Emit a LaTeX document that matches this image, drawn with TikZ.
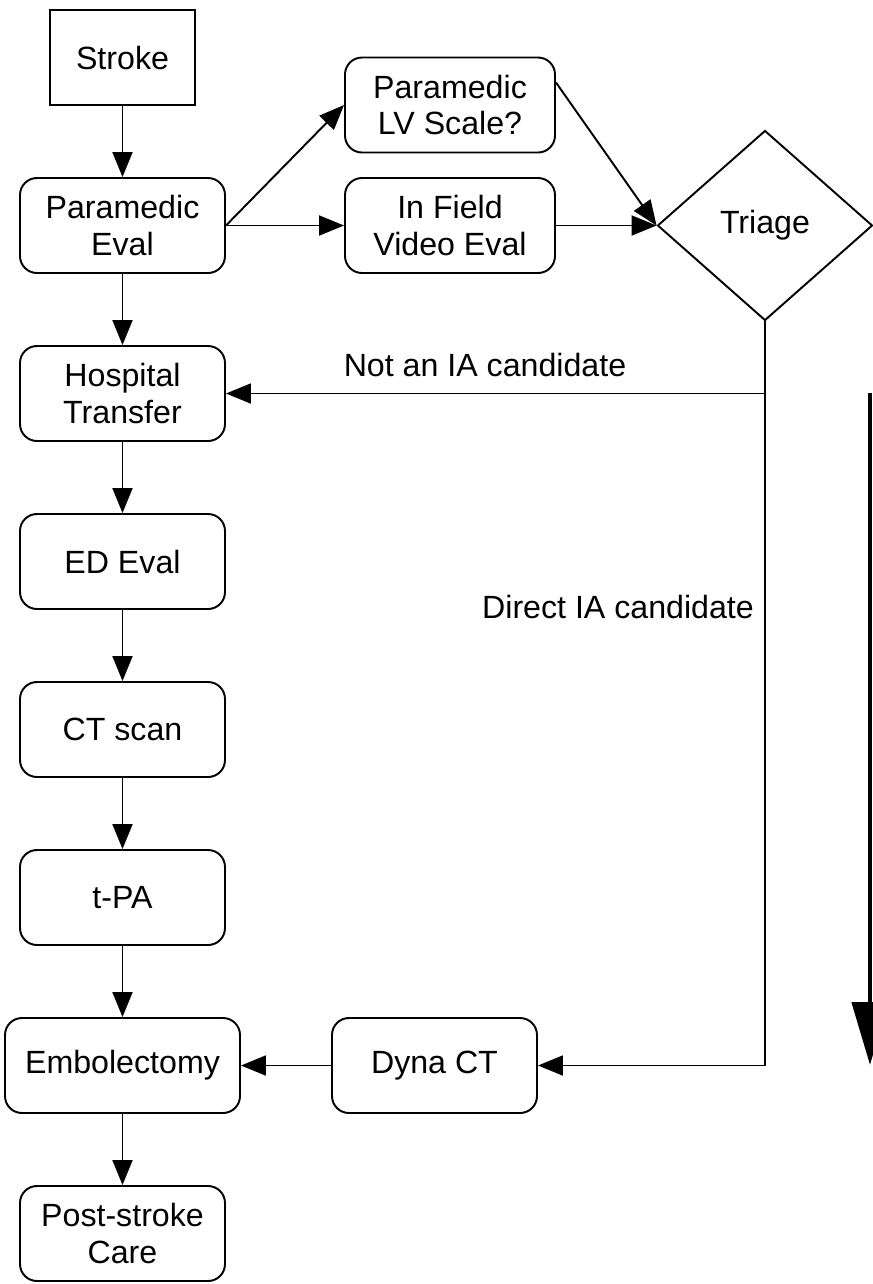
\documentclass[tikz,border=0pt]{standalone}
\usepackage{fontspec}
\setmainfont{Liberation Sans}
\usetikzlibrary{shapes.geometric,arrows.meta}

\begin{document}
\begin{tikzpicture}[x=0.2mm,y=-0.2mm,line width=1.1pt,
  font=\fontsize{18.3}{21}\selectfont,
  box/.style={draw,rounded corners=3.4mm,align=center,
    minimum width=41mm,minimum height=19mm,inner sep=0pt},
  flow/.style={-{Triangle[length=5mm,width=4mm]}}]
  \useasboundingbox (0,0) rectangle (873,1284);
  % main column
  \node[draw,minimum width=29mm,minimum height=19mm] (stroke) at (122.5,57.5) {Stroke};
  \node[box] (peval) at (122.5,225.5) {Paramedic\\Eval};
  \node[box] (htrans) at (122.5,393.5) {Hospital\\Transfer};
  \node[box] (ed) at (122.5,561.5) {ED Eval};
  \node[box] (ct) at (122.5,729.5) {CT scan};
  \node[box] (tpa) at (122.5,897.5) {t-PA};
  \node[box,minimum width=47mm] (embol) at (122.5,1065.5) {Embolectomy};
  \node[box] (post) at (122.5,1233.5) {Post-stroke\\Care};
  % field evaluation and triage
  \node[box,minimum width=42mm] (lvscale) at (450,105) {Paramedic\\LV Scale?};
  \node[box,minimum width=42mm] (video) at (450,225.5) {In Field\\Video Eval};
  \node[draw,diamond,minimum width=43mm,minimum height=38mm,inner sep=0pt]
    (triage) at (765,225.5) {Triage};
  \node[box] (dyna) at (434.5,1065.5) {Dyna CT};
  \node (notia) at (485,365) {Not an IA candidate};
  \node (directia) at (618,607) {Direct IA candidate};
  \coordinate (split) at (triage.south |- htrans.east);
  \coordinate (turn) at (triage.south |- dyna.east);
  \foreach \a/\b in {stroke/peval,peval/htrans,htrans/ed,ed/ct,ct/tpa,tpa/embol,embol/post}
    \draw[flow] (\a) -- (\b);
  \draw[flow] (peval.east) -- (lvscale.west);
  \draw[flow] (peval.east) -- (video.west);
  \draw[flow] (lvscale.12) -- (triage.west);
  \draw[flow] (video.east) -- (triage.west);
  \draw[flow] (split) -- (htrans.east);
  \draw (triage.south) -- (turn);
  \draw[flow] (turn) -- (dyna.east);
  \draw[flow] (dyna.west) -- (embol.east);
  % time axis
  \coordinate (bigtop) at (870,393);
  \coordinate (bigtip) at (870,1065);
  \draw[line width=2.8pt,-{Triangle[length=12.6mm,width=7.2mm]}] (bigtop) -- (bigtip);
\end{tikzpicture}
\end{document}
